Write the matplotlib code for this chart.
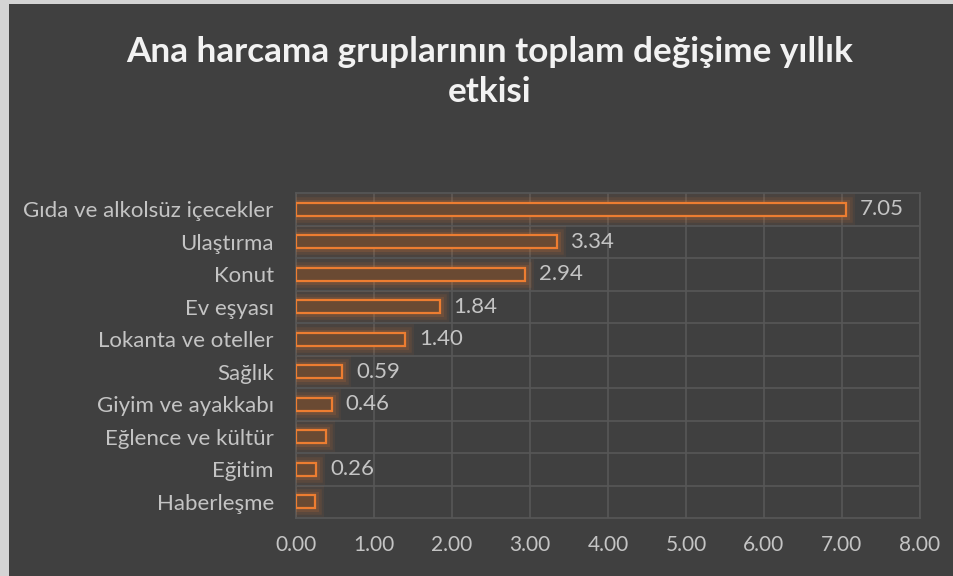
import matplotlib
matplotlib.use("Agg")
import matplotlib.pyplot as plt
import matplotlib.patheffects as pe
from matplotlib.patches import Rectangle

# Veriler
categories = [
    "Gıda ve alkolsüz içecekler",
    "Ulaştırma",
    "Konut",
    "Ev eşyası",
    "Lokanta ve oteller",
    "Sağlık",
    "Giyim ve ayakkabı",
    "Eğlence ve kültür",
    "Eğitim",
    "Haberleşme",
]
values = [7.05, 3.34, 2.94, 1.84, 1.40, 0.59, 0.46, 0.39, 0.26, 0.24]
# etiketi görünmeyen çubuklar için None
value_labels = ["7.05", "3.34", "2.94", "1.84", "1.40", "0.59", "0.46", None, "0.26", None]
x_ticks = [0, 1, 2, 3, 4, 5, 6, 7, 8]
x_tick_labels = ["0.00", "1.00", "2.00", "3.00", "4.00", "5.00", "6.00", "7.00", "8.00"]

BG = "#404040"
ORANGE = "#ED7D31"
FILL = "#6A4A33"
GRID = "#575757"
TEXT = "#C4C4C4"

plt.rcParams["font.family"] = ["Lato", "DejaVu Sans"]


def main():
    fig = plt.figure(figsize=(9.54, 5.76), dpi=100)
    fig.patch.set_facecolor("#D4D4D4")
    # koyu grafik alanı (sol ve üstte açık kenar kalıyor)
    fig.patches.append(Rectangle((9 / 954, 0), 1, 1 - 4 / 576, transform=fig.transFigure,
                                 facecolor=BG, edgecolor="none", zorder=-10))

    ax = fig.add_axes([296 / 954, 58 / 576, 624 / 954, 325 / 576])
    ax.set_facecolor(BG)

    pos = list(range(len(categories)))
    bars = ax.barh(pos, values, height=0.4, color=FILL, edgecolor=ORANGE, linewidth=1.6, zorder=3)
    glow = [
        pe.Stroke(linewidth=13, foreground=ORANGE, alpha=0.06),
        pe.Stroke(linewidth=9, foreground=ORANGE, alpha=0.10),
        pe.Stroke(linewidth=5, foreground=ORANGE, alpha=0.15),
        pe.Normal(),
    ]
    for b in bars:
        b.set_path_effects(glow)

    for p, v, lab in zip(pos, values, value_labels):
        if lab is None:
            continue
        ax.annotate(lab, xy=(v, p), xytext=(10, 0), textcoords="offset points",
                    va="center", ha="left", color=TEXT, fontsize=16, zorder=4)

    ax.set_xlim(0, 8)
    ax.set_ylim(len(categories) - 0.5, -0.5)
    ax.set_xticks(x_ticks)
    ax.set_xticklabels(x_tick_labels)
    ax.set_yticks(pos)
    ax.set_yticklabels(categories)
    ax.set_yticks([p + 0.5 for p in pos[:-1]], minor=True)
    ax.tick_params(axis="both", which="both", length=0, colors=TEXT)
    ax.tick_params(axis="y", pad=16, labelsize=16)
    ax.tick_params(axis="x", pad=12, labelsize=15)

    ax.grid(True, axis="x", which="major", color=GRID, linewidth=1.2, zorder=1)
    ax.grid(True, axis="y", which="minor", color=GRID, linewidth=1.2, zorder=1)
    ax.set_axisbelow(True)
    for s in ax.spines.values():
        s.set_color(GRID)
        s.set_linewidth(1.2)

    fig.text(490 / 954, 1 - 72 / 576, "Ana harcama gruplarının toplam değişime yıllık\netkisi",
             ha="center", va="center", color="#F2F2F2", fontsize=25.3, fontweight="bold",
             linespacing=1.3)

    fig.savefig("out.png", dpi=100, facecolor=fig.get_facecolor())


if __name__ == "__main__":
    main()
